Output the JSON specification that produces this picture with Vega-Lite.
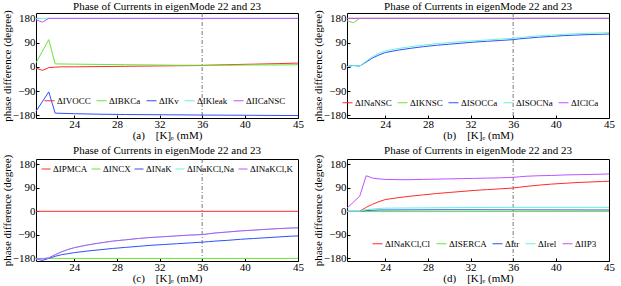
{
"$schema": "https://vega.github.io/schema/vega-lite/v6.json",
"background": "white",
"padding": {"left": 0, "top": 0, "right": 2, "bottom": 0},
"bounds": "flush",
"config": {
  "font": "Liberation Serif, Times New Roman, DejaVu Serif, serif",
  "view": {"stroke": "black", "strokeWidth": 1},
  "axis": {"domain": false, "grid": false, "tickSize": -3, "tickColor": "black", "labelColor": "black", "labelFontSize": 11, "labelFont": "Liberation Serif, Times New Roman, DejaVu Serif, serif", "titleFont": "Liberation Serif, Times New Roman, DejaVu Serif, serif", "titleFontSize": 11, "titleFontWeight": "normal", "titleColor": "black", "labelPadding": 4, "labelFlush": false, "titlePadding": 0},
  "axisX": {"labelPadding": 3},
  "title": {"font": "Liberation Serif, Times New Roman, DejaVu Serif, serif", "fontSize": 11, "fontWeight": "normal", "offset": -2, "color": "black"},
  "legend": {"direction": "horizontal", "columns": 5, "symbolType": "stroke", "labelFont": "Liberation Serif, Times New Roman, DejaVu Serif, serif", "labelFontSize": 9, "labelColor": "black", "symbolStrokeWidth": 1, "symbolSize": 100, "columnPadding": 3, "labelOffset": 2, "padding": 0, "offset": 12, "labelLimit": 120, "title": null}
},
"datasets": {
"v": [{"x": 36}],
"d": [
{"p":"a","s":"ΔIVOCC","x":20.4,"y":-5},{"p":"a","s":"ΔIVOCC","x":21,"y":-13},{"p":"a","s":"ΔIVOCC","x":21.6,"y":-3},{"p":"a","s":"ΔIVOCC","x":22.2,"y":-1},{"p":"a","s":"ΔIVOCC","x":22.8,"y":0},{"p":"a","s":"ΔIVOCC","x":24,"y":0},{"p":"a","s":"ΔIVOCC","x":26.4,"y":1},{"p":"a","s":"ΔIVOCC","x":28.8,"y":2},{"p":"a","s":"ΔIVOCC","x":31.2,"y":3},{"p":"a","s":"ΔIVOCC","x":33.6,"y":4},{"p":"a","s":"ΔIVOCC","x":36,"y":5},{"p":"a","s":"ΔIVOCC","x":36.6,"y":6},{"p":"a","s":"ΔIVOCC","x":38.4,"y":8},{"p":"a","s":"ΔIVOCC","x":40.8,"y":10},{"p":"a","s":"ΔIVOCC","x":43.2,"y":12},{"p":"a","s":"ΔIVOCC","x":45,"y":14},
{"p":"a","s":"ΔIBKCa","x":20.4,"y":15},{"p":"a","s":"ΔIBKCa","x":21.6,"y":101},{"p":"a","s":"ΔIBKCa","x":22.2,"y":11},{"p":"a","s":"ΔIBKCa","x":24,"y":10},{"p":"a","s":"ΔIBKCa","x":26.4,"y":9},{"p":"a","s":"ΔIBKCa","x":28.8,"y":8},{"p":"a","s":"ΔIBKCa","x":31.2,"y":7},{"p":"a","s":"ΔIBKCa","x":33.6,"y":6},{"p":"a","s":"ΔIBKCa","x":36,"y":6},{"p":"a","s":"ΔIBKCa","x":38.4,"y":6},{"p":"a","s":"ΔIBKCa","x":40.8,"y":7},{"p":"a","s":"ΔIBKCa","x":43.2,"y":7},{"p":"a","s":"ΔIBKCa","x":45,"y":8},
{"p":"a","s":"ΔIKv","x":20.4,"y":-165},{"p":"a","s":"ΔIKv","x":21.6,"y":-93},{"p":"a","s":"ΔIKv","x":22.2,"y":-172},{"p":"a","s":"ΔIKv","x":24,"y":-174},{"p":"a","s":"ΔIKv","x":26.4,"y":-176},{"p":"a","s":"ΔIKv","x":28.8,"y":-177},{"p":"a","s":"ΔIKv","x":32.4,"y":-178},{"p":"a","s":"ΔIKv","x":36,"y":-179},{"p":"a","s":"ΔIKv","x":40.8,"y":-180},{"p":"a","s":"ΔIKv","x":45,"y":-181},
{"p":"a","s":"ΔIKleak","x":20.4,"y":180},{"p":"a","s":"ΔIKleak","x":45,"y":180},
{"p":"a","s":"ΔIICaNSC","x":20.4,"y":175},{"p":"a","s":"ΔIICaNSC","x":21,"y":166},{"p":"a","s":"ΔIICaNSC","x":21.6,"y":180},{"p":"a","s":"ΔIICaNSC","x":45,"y":180},
{"p":"b","s":"ΔINaNSC","x":20.4,"y":180},{"p":"b","s":"ΔINaNSC","x":45,"y":180},
{"p":"b","s":"ΔIKNSC","x":20.4,"y":171},{"p":"b","s":"ΔIKNSC","x":21,"y":164},{"p":"b","s":"ΔIKNSC","x":21.6,"y":180},{"p":"b","s":"ΔIKNSC","x":45,"y":180},
{"p":"b","s":"ΔISOCCa","x":20.4,"y":1},{"p":"b","s":"ΔISOCCa","x":21,"y":5},{"p":"b","s":"ΔISOCCa","x":21.6,"y":3},{"p":"b","s":"ΔISOCCa","x":22.2,"y":18},{"p":"b","s":"ΔISOCCa","x":22.8,"y":33},{"p":"b","s":"ΔISOCCa","x":23.4,"y":44},{"p":"b","s":"ΔISOCCa","x":24,"y":53},{"p":"b","s":"ΔISOCCa","x":25.2,"y":62},{"p":"b","s":"ΔISOCCa","x":26.4,"y":69},{"p":"b","s":"ΔISOCCa","x":27.6,"y":75},{"p":"b","s":"ΔISOCCa","x":28.8,"y":80},{"p":"b","s":"ΔISOCCa","x":30,"y":84},{"p":"b","s":"ΔISOCCa","x":31.2,"y":88},{"p":"b","s":"ΔISOCCa","x":32.4,"y":92},{"p":"b","s":"ΔISOCCa","x":33.6,"y":95},{"p":"b","s":"ΔISOCCa","x":34.8,"y":98},{"p":"b","s":"ΔISOCCa","x":36,"y":101},{"p":"b","s":"ΔISOCCa","x":36.6,"y":104},{"p":"b","s":"ΔISOCCa","x":37.2,"y":106},{"p":"b","s":"ΔISOCCa","x":38.4,"y":110},{"p":"b","s":"ΔISOCCa","x":39.6,"y":113},{"p":"b","s":"ΔISOCCa","x":40.8,"y":116},{"p":"b","s":"ΔISOCCa","x":42,"y":118},{"p":"b","s":"ΔISOCCa","x":43.2,"y":120},{"p":"b","s":"ΔISOCCa","x":44.4,"y":121},{"p":"b","s":"ΔISOCCa","x":45,"y":122},
{"p":"b","s":"ΔISOCNa","x":20.4,"y":1},{"p":"b","s":"ΔISOCNa","x":21,"y":5},{"p":"b","s":"ΔISOCNa","x":21.6,"y":3},{"p":"b","s":"ΔISOCNa","x":22.2,"y":21},{"p":"b","s":"ΔISOCNa","x":22.8,"y":38},{"p":"b","s":"ΔISOCNa","x":23.4,"y":50},{"p":"b","s":"ΔISOCNa","x":24,"y":59},{"p":"b","s":"ΔISOCNa","x":25.2,"y":68},{"p":"b","s":"ΔISOCNa","x":26.4,"y":75},{"p":"b","s":"ΔISOCNa","x":27.6,"y":81},{"p":"b","s":"ΔISOCNa","x":28.8,"y":86},{"p":"b","s":"ΔISOCNa","x":30,"y":90},{"p":"b","s":"ΔISOCNa","x":31.2,"y":94},{"p":"b","s":"ΔISOCNa","x":32.4,"y":97},{"p":"b","s":"ΔISOCNa","x":33.6,"y":100},{"p":"b","s":"ΔISOCNa","x":34.8,"y":103},{"p":"b","s":"ΔISOCNa","x":36,"y":106},{"p":"b","s":"ΔISOCNa","x":36.6,"y":109},{"p":"b","s":"ΔISOCNa","x":37.2,"y":111},{"p":"b","s":"ΔISOCNa","x":38.4,"y":115},{"p":"b","s":"ΔISOCNa","x":39.6,"y":118},{"p":"b","s":"ΔISOCNa","x":40.8,"y":121},{"p":"b","s":"ΔISOCNa","x":42,"y":123},{"p":"b","s":"ΔISOCNa","x":43.2,"y":125},{"p":"b","s":"ΔISOCNa","x":44.4,"y":126},{"p":"b","s":"ΔISOCNa","x":45,"y":127},
{"p":"b","s":"ΔIClCa","x":20.4,"y":180},{"p":"b","s":"ΔIClCa","x":45,"y":180},
{"p":"c","s":"ΔIPMCA","x":20.4,"y":0},{"p":"c","s":"ΔIPMCA","x":45,"y":0},
{"p":"c","s":"ΔINCX","x":20.4,"y":-180},{"p":"c","s":"ΔINCX","x":45,"y":-180},
{"p":"c","s":"ΔINaK","x":20.4,"y":-181},{"p":"c","s":"ΔINaK","x":21,"y":-188},{"p":"c","s":"ΔINaK","x":21.6,"y":-180},{"p":"c","s":"ΔINaK","x":22.2,"y":-172},{"p":"c","s":"ΔINaK","x":22.8,"y":-166},{"p":"c","s":"ΔINaK","x":23.4,"y":-162},{"p":"c","s":"ΔINaK","x":24,"y":-158},{"p":"c","s":"ΔINaK","x":25.2,"y":-152},{"p":"c","s":"ΔINaK","x":26.4,"y":-147},{"p":"c","s":"ΔINaK","x":27.6,"y":-142},{"p":"c","s":"ΔINaK","x":28.8,"y":-138},{"p":"c","s":"ΔINaK","x":30,"y":-134},{"p":"c","s":"ΔINaK","x":31.2,"y":-130},{"p":"c","s":"ΔINaK","x":32.4,"y":-127},{"p":"c","s":"ΔINaK","x":33.6,"y":-124},{"p":"c","s":"ΔINaK","x":34.8,"y":-121},{"p":"c","s":"ΔINaK","x":36,"y":-118},{"p":"c","s":"ΔINaK","x":36.6,"y":-116},{"p":"c","s":"ΔINaK","x":37.2,"y":-114},{"p":"c","s":"ΔINaK","x":38.4,"y":-111},{"p":"c","s":"ΔINaK","x":39.6,"y":-107},{"p":"c","s":"ΔINaK","x":40.8,"y":-104},{"p":"c","s":"ΔINaK","x":42,"y":-101},{"p":"c","s":"ΔINaK","x":43.2,"y":-98},{"p":"c","s":"ΔINaK","x":44.4,"y":-95},{"p":"c","s":"ΔINaK","x":45,"y":-94},
{"p":"c","s":"ΔINaKCl,Na","x":20.4,"y":-182},{"p":"c","s":"ΔINaKCl,Na","x":21,"y":-182},{"p":"c","s":"ΔINaKCl,Na","x":21.6,"y":-178},{"p":"c","s":"ΔINaKCl,Na","x":22.2,"y":-166},{"p":"c","s":"ΔINaKCl,Na","x":22.8,"y":-155},{"p":"c","s":"ΔINaKCl,Na","x":23.4,"y":-146},{"p":"c","s":"ΔINaKCl,Na","x":24,"y":-139},{"p":"c","s":"ΔINaKCl,Na","x":25.2,"y":-129},{"p":"c","s":"ΔINaKCl,Na","x":26.4,"y":-121},{"p":"c","s":"ΔINaKCl,Na","x":27.6,"y":-114},{"p":"c","s":"ΔINaKCl,Na","x":28.8,"y":-109},{"p":"c","s":"ΔINaKCl,Na","x":30,"y":-104},{"p":"c","s":"ΔINaKCl,Na","x":31.2,"y":-100},{"p":"c","s":"ΔINaKCl,Na","x":32.4,"y":-97},{"p":"c","s":"ΔINaKCl,Na","x":33.6,"y":-94},{"p":"c","s":"ΔINaKCl,Na","x":34.8,"y":-91},{"p":"c","s":"ΔINaKCl,Na","x":36,"y":-89},{"p":"c","s":"ΔINaKCl,Na","x":36.6,"y":-86},{"p":"c","s":"ΔINaKCl,Na","x":37.2,"y":-83},{"p":"c","s":"ΔINaKCl,Na","x":38.4,"y":-79},{"p":"c","s":"ΔINaKCl,Na","x":39.6,"y":-75},{"p":"c","s":"ΔINaKCl,Na","x":40.8,"y":-72},{"p":"c","s":"ΔINaKCl,Na","x":42,"y":-69},{"p":"c","s":"ΔINaKCl,Na","x":43.2,"y":-66},{"p":"c","s":"ΔINaKCl,Na","x":44.4,"y":-64},{"p":"c","s":"ΔINaKCl,Na","x":45,"y":-63},
{"p":"c","s":"ΔINaKCl,K","x":20.4,"y":-182},{"p":"c","s":"ΔINaKCl,K","x":21,"y":-182},{"p":"c","s":"ΔINaKCl,K","x":21.6,"y":-178},{"p":"c","s":"ΔINaKCl,K","x":22.2,"y":-166},{"p":"c","s":"ΔINaKCl,K","x":22.8,"y":-155},{"p":"c","s":"ΔINaKCl,K","x":23.4,"y":-146},{"p":"c","s":"ΔINaKCl,K","x":24,"y":-139},{"p":"c","s":"ΔINaKCl,K","x":25.2,"y":-129},{"p":"c","s":"ΔINaKCl,K","x":26.4,"y":-121},{"p":"c","s":"ΔINaKCl,K","x":27.6,"y":-114},{"p":"c","s":"ΔINaKCl,K","x":28.8,"y":-109},{"p":"c","s":"ΔINaKCl,K","x":30,"y":-104},{"p":"c","s":"ΔINaKCl,K","x":31.2,"y":-100},{"p":"c","s":"ΔINaKCl,K","x":32.4,"y":-97},{"p":"c","s":"ΔINaKCl,K","x":33.6,"y":-94},{"p":"c","s":"ΔINaKCl,K","x":34.8,"y":-91},{"p":"c","s":"ΔINaKCl,K","x":36,"y":-89},{"p":"c","s":"ΔINaKCl,K","x":36.6,"y":-86},{"p":"c","s":"ΔINaKCl,K","x":37.2,"y":-83},{"p":"c","s":"ΔINaKCl,K","x":38.4,"y":-79},{"p":"c","s":"ΔINaKCl,K","x":39.6,"y":-75},{"p":"c","s":"ΔINaKCl,K","x":40.8,"y":-72},{"p":"c","s":"ΔINaKCl,K","x":42,"y":-69},{"p":"c","s":"ΔINaKCl,K","x":43.2,"y":-66},{"p":"c","s":"ΔINaKCl,K","x":44.4,"y":-64},{"p":"c","s":"ΔINaKCl,K","x":45,"y":-63},
{"p":"d","s":"ΔINaKCl,Cl","x":20.4,"y":0},{"p":"d","s":"ΔINaKCl,Cl","x":21.6,"y":0},{"p":"d","s":"ΔINaKCl,Cl","x":22.2,"y":15},{"p":"d","s":"ΔINaKCl,Cl","x":22.8,"y":27},{"p":"d","s":"ΔINaKCl,Cl","x":23.4,"y":37},{"p":"d","s":"ΔINaKCl,Cl","x":24,"y":45},{"p":"d","s":"ΔINaKCl,Cl","x":25.2,"y":52},{"p":"d","s":"ΔINaKCl,Cl","x":26.4,"y":58},{"p":"d","s":"ΔINaKCl,Cl","x":27.6,"y":63},{"p":"d","s":"ΔINaKCl,Cl","x":28.8,"y":68},{"p":"d","s":"ΔINaKCl,Cl","x":30,"y":72},{"p":"d","s":"ΔINaKCl,Cl","x":31.2,"y":76},{"p":"d","s":"ΔINaKCl,Cl","x":32.4,"y":80},{"p":"d","s":"ΔINaKCl,Cl","x":33.6,"y":83},{"p":"d","s":"ΔINaKCl,Cl","x":34.8,"y":86},{"p":"d","s":"ΔINaKCl,Cl","x":36,"y":89},{"p":"d","s":"ΔINaKCl,Cl","x":36.6,"y":92},{"p":"d","s":"ΔINaKCl,Cl","x":37.2,"y":95},{"p":"d","s":"ΔINaKCl,Cl","x":38.4,"y":100},{"p":"d","s":"ΔINaKCl,Cl","x":39.6,"y":104},{"p":"d","s":"ΔINaKCl,Cl","x":40.8,"y":107},{"p":"d","s":"ΔINaKCl,Cl","x":42,"y":110},{"p":"d","s":"ΔINaKCl,Cl","x":43.2,"y":112},{"p":"d","s":"ΔINaKCl,Cl","x":44.4,"y":114},{"p":"d","s":"ΔINaKCl,Cl","x":45,"y":115},
{"p":"d","s":"ΔISERCA","x":20.4,"y":-1},{"p":"d","s":"ΔISERCA","x":45,"y":-1},
{"p":"d","s":"ΔItr","x":20.4,"y":0},{"p":"d","s":"ΔItr","x":21.6,"y":0},{"p":"d","s":"ΔItr","x":22.2,"y":3},{"p":"d","s":"ΔItr","x":23.4,"y":5},{"p":"d","s":"ΔItr","x":30,"y":6},{"p":"d","s":"ΔItr","x":45,"y":5},
{"p":"d","s":"ΔIrel","x":20.4,"y":0},{"p":"d","s":"ΔIrel","x":21.6,"y":0},{"p":"d","s":"ΔIrel","x":22.2,"y":6},{"p":"d","s":"ΔIrel","x":23.4,"y":11},{"p":"d","s":"ΔIrel","x":24,"y":12},{"p":"d","s":"ΔIrel","x":30,"y":14},{"p":"d","s":"ΔIrel","x":36,"y":15},{"p":"d","s":"ΔIrel","x":45,"y":15},
{"p":"d","s":"ΔIIP3","x":20.4,"y":12},{"p":"d","s":"ΔIIP3","x":21,"y":35},{"p":"d","s":"ΔIIP3","x":21.6,"y":58},{"p":"d","s":"ΔIIP3","x":22.2,"y":136},{"p":"d","s":"ΔIIP3","x":22.8,"y":127},{"p":"d","s":"ΔIIP3","x":23.4,"y":124},{"p":"d","s":"ΔIIP3","x":24,"y":122},{"p":"d","s":"ΔIIP3","x":25.2,"y":121},{"p":"d","s":"ΔIIP3","x":26.4,"y":121},{"p":"d","s":"ΔIIP3","x":27.6,"y":122},{"p":"d","s":"ΔIIP3","x":28.8,"y":123},{"p":"d","s":"ΔIIP3","x":30,"y":124},{"p":"d","s":"ΔIIP3","x":31.2,"y":125},{"p":"d","s":"ΔIIP3","x":32.4,"y":126},{"p":"d","s":"ΔIIP3","x":33.6,"y":127},{"p":"d","s":"ΔIIP3","x":34.8,"y":128},{"p":"d","s":"ΔIIP3","x":36,"y":130},{"p":"d","s":"ΔIIP3","x":36.6,"y":132},{"p":"d","s":"ΔIIP3","x":37.2,"y":134},{"p":"d","s":"ΔIIP3","x":38.4,"y":136},{"p":"d","s":"ΔIIP3","x":39.6,"y":137},{"p":"d","s":"ΔIIP3","x":40.8,"y":139},{"p":"d","s":"ΔIIP3","x":42,"y":140},{"p":"d","s":"ΔIIP3","x":43.2,"y":141},{"p":"d","s":"ΔIIP3","x":44.4,"y":142},{"p":"d","s":"ΔIIP3","x":45,"y":143}
]
},
"columns": 2,
"spacing": {"row": 41, "column": 49},
"resolve": {"scale": {"color": "independent"}, "legend": {"color": "independent"}},
"concat": [
{
 "width": 262, "height": 105,
 "title": "Phase of Currents in eigenMode 22 and 23",
 "encoding": {"x": {"field": "x", "type": "quantitative", "scale": {"domain": [20.4, 45], "nice": false, "zero": false}, "axis": {"values": [24, 28, 32, 36, 40, 45], "title": "(a)\u00a0\u00a0\u00a0\u00a0[K]ₑ (mM)"}}},
 "layer": [
  {"data": {"name": "v"}, "mark": {"type": "rule", "color": "#555555", "strokeDash": [4, 2, 1, 2], "strokeWidth": 0.8}, "encoding": {}},
  {"data": {"name": "d"}, "transform": [{"filter": "datum.p == 'a'"}], "mark": {"type": "line", "strokeWidth": 1},
   "encoding": {
    "y": {"field": "y", "type": "quantitative", "scale": {"domain": [-190, 200], "nice": false}, "axis": {"values": [-180, -90, 0, 90, 180], "title": "phase difference (degree)"}},
    "color": {"field": "s", "type": "nominal", "scale": {"domain": ["ΔIVOCC", "ΔIBKCa", "ΔIKv", "ΔIKleak", "ΔIICaNSC"], "range": ["#ff2a2a", "#66e633", "#2f4fff", "#66f5d5", "#c050ff"]}, "legend": {"orient": "bottom-right"}}
   }}
 ]
},
{
 "width": 262, "height": 105,
 "title": "Phase of Currents in eigenMode 22 and 23",
 "encoding": {"x": {"field": "x", "type": "quantitative", "scale": {"domain": [20.4, 45], "nice": false, "zero": false}, "axis": {"values": [24, 28, 32, 36, 40, 45], "title": "(b)\u00a0\u00a0\u00a0\u00a0[K]ₑ (mM)"}}},
 "layer": [
  {"data": {"name": "v"}, "mark": {"type": "rule", "color": "#555555", "strokeDash": [4, 2, 1, 2], "strokeWidth": 0.8}, "encoding": {}},
  {"data": {"name": "d"}, "transform": [{"filter": "datum.p == 'b'"}], "mark": {"type": "line", "strokeWidth": 1},
   "encoding": {
    "y": {"field": "y", "type": "quantitative", "scale": {"domain": [-190, 200], "nice": false}, "axis": {"values": [-180, -90, 0, 90, 180], "title": "phase difference (degree)"}},
    "color": {"field": "s", "type": "nominal", "scale": {"domain": ["ΔINaNSC", "ΔIKNSC", "ΔISOCCa", "ΔISOCNa", "ΔIClCa"], "range": ["#ff2a2a", "#66e633", "#2f4fff", "#66f5d5", "#c050ff"]}, "legend": {"orient": "bottom-right", "offset": 10}}
   }}
 ]
},
{
 "width": 262, "height": 102,
 "title": "Phase of Currents in eigenMode 22 and 23",
 "encoding": {"x": {"field": "x", "type": "quantitative", "scale": {"domain": [20.4, 45], "nice": false, "zero": false}, "axis": {"values": [24, 28, 32, 36, 40, 45], "title": "(c)\u00a0\u00a0\u00a0\u00a0[K]ₑ (mM)"}}},
 "layer": [
  {"data": {"name": "v"}, "mark": {"type": "rule", "color": "#555555", "strokeDash": [4, 2, 1, 2], "strokeWidth": 0.8}, "encoding": {}},
  {"data": {"name": "d"}, "transform": [{"filter": "datum.p == 'c'"}], "mark": {"type": "line", "strokeWidth": 1},
   "encoding": {
    "y": {"field": "y", "type": "quantitative", "scale": {"domain": [-190, 200], "nice": false}, "axis": {"values": [-180, -90, 0, 90, 180], "title": "phase difference (degree)"}},
    "color": {"field": "s", "type": "nominal", "scale": {"domain": ["ΔIPMCA", "ΔINCX", "ΔINaK", "ΔINaKCl,Na", "ΔINaKCl,K"], "range": ["#ff2a2a", "#66e633", "#2f4fff", "#66f5d5", "#c050ff"]}, "legend": {"orient": "top-left", "offset": 5, "columnPadding": 1, "symbolSize": 81}}
   }}
 ]
},
{
 "width": 262, "height": 102,
 "title": "Phase of Currents in eigenMode 22 and 23",
 "encoding": {"x": {"field": "x", "type": "quantitative", "scale": {"domain": [20.4, 45], "nice": false, "zero": false}, "axis": {"values": [24, 28, 32, 36, 40, 45], "title": "(d)\u00a0\u00a0\u00a0\u00a0[K]ₑ (mM)"}}},
 "layer": [
  {"data": {"name": "v"}, "mark": {"type": "rule", "color": "#555555", "strokeDash": [4, 2, 1, 2], "strokeWidth": 0.8}, "encoding": {}},
  {"data": {"name": "d"}, "transform": [{"filter": "datum.p == 'd'"}], "mark": {"type": "line", "strokeWidth": 1},
   "encoding": {
    "y": {"field": "y", "type": "quantitative", "scale": {"domain": [-190, 200], "nice": false}, "axis": {"values": [-180, -90, 0, 90, 180], "title": "phase difference (degree)"}},
    "color": {"field": "s", "type": "nominal", "scale": {"domain": ["ΔINaKCl,Cl", "ΔISERCA", "ΔItr", "ΔIrel", "ΔIIP3"], "range": ["#ff2a2a", "#66e633", "#2f4fff", "#66f5d5", "#c050ff"]}, "legend": {"orient": "bottom-right"}}
   }}
 ]
}
]
}
